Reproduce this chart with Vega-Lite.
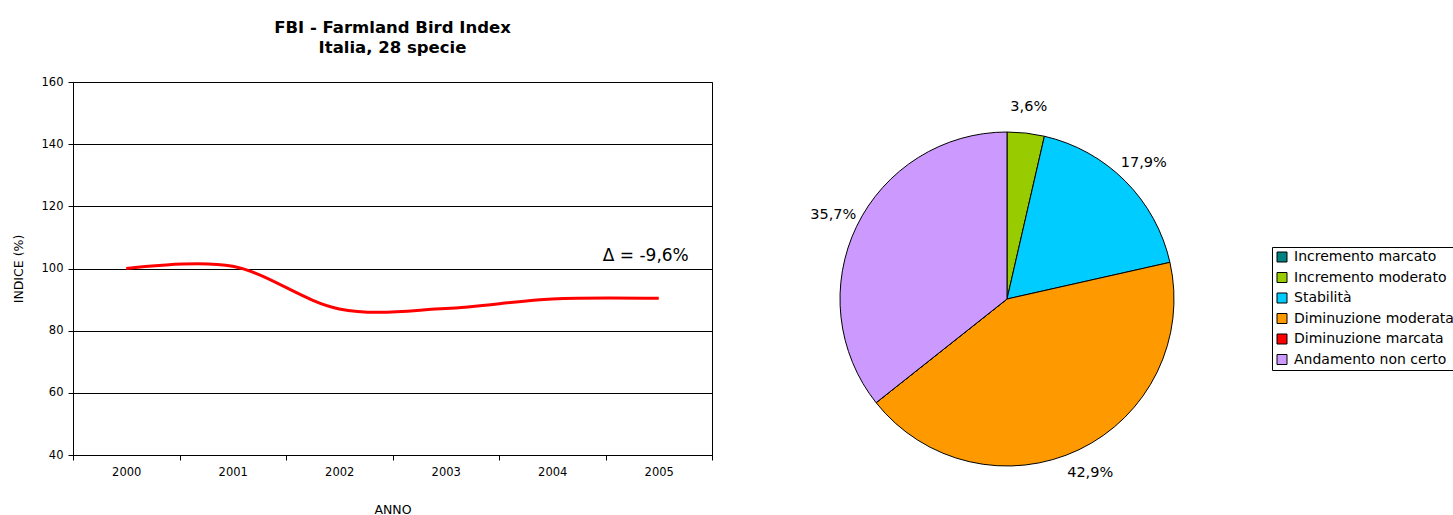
{
  "$schema": "https://vega.github.io/schema/vega-lite/v6.json",
  "background": "white",
  "padding": {"left": 11, "top": 19, "right": 0, "bottom": 0},
  "config": {
    "font": "DejaVu Sans",
    "view": {"stroke": "black", "strokeWidth": 1},
    "concat": {"spacing": 128}
  },
  "bounds": "flush",
  "datasets": {
    "fbi": [
      {"anno": "2000", "indice": 100.0},
      {"anno": "2001", "indice": 100.7},
      {"anno": "2002", "indice": 87.0},
      {"anno": "2003", "indice": 87.1},
      {"anno": "2004", "indice": 90.2},
      {"anno": "2005", "indice": 90.4}
    ],
    "trend": [
      {"cat": "Incremento marcato", "ord": 1, "pct": 0, "label": "0,0%"},
      {"cat": "Incremento moderato", "ord": 2, "pct": 3.6, "label": "3,6%"},
      {"cat": "Stabilità", "ord": 3, "pct": 17.9, "label": "17,9%"},
      {"cat": "Diminuzione moderata", "ord": 4, "pct": 42.9, "label": "42,9%"},
      {"cat": "Diminuzione marcata", "ord": 5, "pct": 0, "label": "0,0%"},
      {"cat": "Andamento non certo", "ord": 6, "pct": 35.7, "label": "35,7%"}
    ]
  },
  "hconcat": [
    {
      "width": 639,
      "height": 373,
      "title": {
        "text": ["FBI - Farmland Bird Index", "Italia, 28 specie"],
        "fontSize": 16.5,
        "fontWeight": "bold",
        "anchor": "middle",
        "frame": "group",
        "offset": 20,
        "lineHeight": 20,
        "color": "black"
      },
      "layer": [
        {
          "data": {"name": "fbi"},
          "mark": {"type": "line", "color": "#FF0000", "strokeWidth": 3, "interpolate": "cardinal", "tension": 0},
          "encoding": {
            "x": {
              "field": "anno",
              "type": "ordinal",
              "bandPosition": 0.5,
              "scale": {"type": "band", "paddingInner": 0, "paddingOuter": 0},
              "axis": {
                "title": "ANNO",
                "titleFontSize": 12.5,
                "titleFontWeight": "normal",
                "titleColor": "black",
                "titlePadding": 26,
                "labelFontSize": 11.5,
                "labelColor": "black",
                "labelAngle": 0,
                "labelPadding": 6,
                "tickBand": "extent",
                "tickColor": "black",
                "tickSize": 5,
                "domainColor": "black",
                "grid": false
              }
            },
            "y": {
              "field": "indice",
              "type": "quantitative",
              "scale": {"domain": [40, 160], "nice": false, "zero": false},
              "axis": {
                "title": "INDICE (%)",
                "titleFontSize": 12.5,
                "titleFontWeight": "normal",
                "titleColor": "black",
                "titlePadding": 16,
                "values": [40, 60, 80, 100, 120, 140, 160],
                "labelFontSize": 11.5,
                "labelColor": "black",
                "labelPadding": 5,
                "tickColor": "black",
                "tickSize": 5,
                "domainColor": "black",
                "grid": true,
                "gridColor": "black",
                "gridOpacity": 1,
                "gridWidth": 1
              }
            }
          }
        },
        {
          "data": {"values": [{"t": "Δ = -9,6%"}]},
          "mark": {"type": "text", "fontSize": 17, "color": "black", "align": "center", "baseline": "middle", "dx": -13},
          "encoding": {
            "x": {"datum": "2005", "type": "ordinal"},
            "y": {"datum": 104.1, "type": "quantitative"},
            "text": {"field": "t"}
          }
        }
      ]
    },
    {
      "width": 334,
      "height": 434,
      "view": {"stroke": null},
      "data": {"name": "trend"},
      "encoding": {
        "theta": {"field": "pct", "type": "quantitative", "stack": true},
        "order": {"field": "ord", "type": "quantitative"}
      },
      "layer": [
        {
          "mark": {"type": "arc", "outerRadius": 167, "stroke": "black", "strokeWidth": 1},
          "encoding": {
            "color": {
              "field": "cat",
              "type": "nominal",
              "scale": {
                "domain": ["Incremento marcato", "Incremento moderato", "Stabilità", "Diminuzione moderata", "Diminuzione marcata", "Andamento non certo"],
                "range": ["#008080", "#99CC00", "#00CCFF", "#FF9900", "#FF0000", "#CC99FF"]
              },
              "legend": {
                "title": null,
                "orient": "none",
                "legendX": 1199,
                "legendY": 165,
                "labelFontSize": 14,
                "labelColor": "black",
                "labelLimit": 300,
                "symbolType": "square",
                "symbolSize": 100,
                "symbolStrokeColor": "black",
                "symbolStrokeWidth": 1,
                "rowPadding": 6.5,
                "padding": 3,
                "strokeColor": "black",
                "labelOffset": 5
              }
            }
          }
        },
        {
          "transform": [{"filter": "datum.pct > 0"}],
          "mark": {"type": "text", "radius": 193, "fontSize": 14.5, "color": "black"},
          "encoding": {
            "text": {"field": "label"}
          }
        }
      ]
    }
  ]
}
